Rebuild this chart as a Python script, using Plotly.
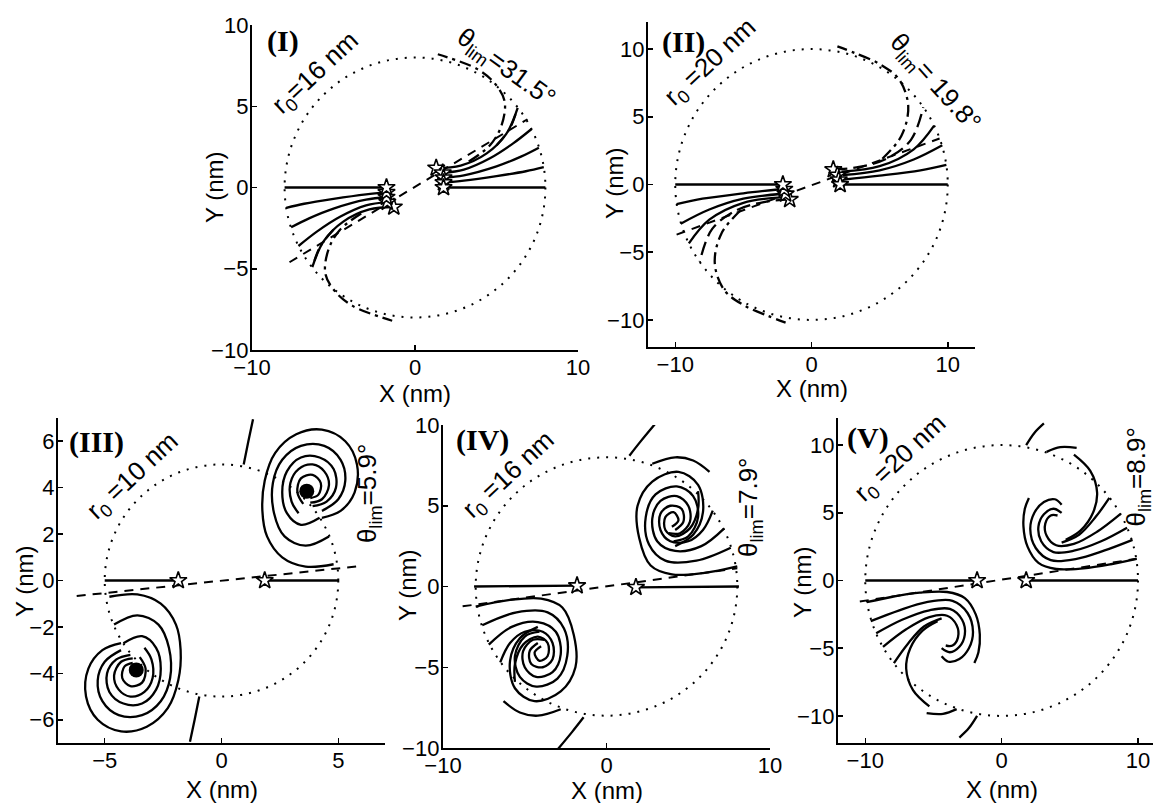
import plotly.graph_objects as go

# page geometry (reference pixels); the page body margin is removed after drawing
REF_W, REF_H = 1155, 803
PAGE_OFFSET = 0
W, H = REF_W, REF_H

# ---------------- data (right-hand half of each panel; the left half is the point mirror) -------------
# Panel I : r0 = 16 nm, theta_lim = 31.5 deg
I_R = 8
I_STARS = [(1.3, 1.2), (1.7, 0.9), (1.75, 0.6), (1.75, 0.3), (1.75, 0.0)]
I_SOLID = [
    [(1.75, 0.0), (8.0, 0.0)],
    [(1.75, 0.3), (3.0, 0.42), (5.0, 0.7), (6.8, 1.0), (7.9, 1.25)],
    [(1.75, 0.6), (3.0, 0.75), (5.0, 1.3), (6.5, 1.9), (7.6, 2.45)],
    [(1.7, 0.9), (3.0, 1.1), (4.6, 1.8), (6.0, 2.7), (7.15, 3.6)],
    [(1.3, 1.2), (2.8, 1.35), (4.4, 2.1), (5.6, 3.3), (6.3, 4.9)],
]
I_DASHDOT = [
    [(3.3, 1.6), (4.6, 2.6), (5.3, 3.8), (5.5, 5.3), (4.9, 6.4), (3.8, 7.3), (1.4, 8.2)],
    [(5.0, 2.6), (5.8, 3.6), (6.2, 4.6)],
]
I_LONGDASH = []
I_LIMIT = [(-7.7, -4.6), (6.9, 4.2)]
I_X_TICKS = [-10, 0, 10]
I_Y_TICKS = [-10, -5, 0, 5, 10]

# Panel II : r0 = 20 nm, theta_lim = 19.8 deg
II_R = 10
II_STARS = [(1.6, 1.1), (1.9, 0.7), (2.0, 0.35), (2.1, 0.0)]
II_SOLID = [
    [(2.1, 0.0), (10.0, 0.0)],
    [(2.3, 0.35), (5.0, 0.65), (8.0, 1.05), (9.9, 1.45)],
    [(2.3, 0.7), (5.0, 1.05), (7.5, 1.85), (9.6, 2.9)],
    [(2.2, 0.95), (5.0, 1.35), (7.5, 2.6), (9.0, 4.35)],
]
II_DASHDOT = [
    [(5.2, 1.9), (6.6, 3.6), (7.1, 5.8), (6.4, 7.8), (5.0, 8.9), (3.2, 9.7), (1.9, 10.2)],
]
II_LONGDASH = [
    [(1.6, 1.1), (3.5, 1.3), (5.5, 1.9), (7.3, 3.3), (8.2, 5.7)],
]
II_LIMIT = [(-9.9, -3.7), (9.4, 3.4)]
II_X_TICKS = [-10, 0, 10]
II_Y_TICKS = [-10, -5, 0, 5, 10]

# Panel III : r0 = 10 nm, theta_lim = 5.9 deg
III_R = 5
III_STARS = [(1.85, 0.0)]
III_SOLID = [
    [(1.85, 0.0), (5.0, 0.0)],
    [(4.8, 0.7), (3.6, 0.6), (2.6, 1.0), (1.95, 1.9), (1.75, 3.0), (1.85, 4.3), (2.3, 5.5), (3.2, 6.3), (4.3, 6.5), (5.3, 6.0), (5.8, 5.0), (5.7, 3.8), (5.1, 3.0), (4.3, 2.7)],
    [(4.6, 1.9), (3.6, 1.5), (2.7, 1.9), (2.25, 2.9), (2.2, 4.2), (2.6, 5.2), (3.4, 5.8), (4.4, 5.8), (5.1, 5.2), (5.3, 4.3), (5.0, 3.5), (4.3, 3.0)],
    [(4.2, 2.7), (3.4, 2.4), (2.8, 2.9), (2.6, 3.8), (2.8, 4.7), (3.4, 5.3), (4.2, 5.3), (4.8, 4.8), (4.9, 4.0), (4.5, 3.4), (3.9, 3.2)],
    [(3.3, 2.9), (3.0, 3.4), (2.95, 4.2), (3.3, 4.8), (3.9, 5.0), (4.4, 4.7), (4.6, 4.1), (4.3, 3.5), (3.8, 3.35)],
    [(3.5, 3.3), (3.25, 3.8), (3.4, 4.4), (3.9, 4.55), (4.25, 4.2), (4.15, 3.7), (3.8, 3.55)],
    [(1.35, 6.95), (1.15, 6.0), (0.95, 5.0)],
]
III_DASHDOT = []
III_LONGDASH = []
III_CORE = [(3.65, 3.85)]
III_LIMIT = [(-6.2, -0.67), (5.9, 0.62)]
III_X_TICKS = [-5, 0, 5]
III_Y_TICKS = [-6, -4, -2, 0, 2, 4, 6]

# Panel IV : r0 = 16 nm, theta_lim = 7.9 deg
IV_R = 8
IV_STARS = [(1.8, -0.05)]
IV_SOLID = [
    [(1.8, -0.05), (8.1, 0.0)],
    [(8.0, 1.25), (6.0, 0.85), (4.0, 0.75), (2.7, 1.3), (2.0, 3.0), (1.9, 5.0), (2.8, 6.5), (4.4, 7.1), (5.6, 6.3), (5.9, 4.6), (5.3, 3.2), (4.2, 2.5)],
    [(7.6, 2.4), (5.5, 1.6), (3.6, 1.6), (2.6, 2.6), (2.4, 4.3), (3.0, 5.7), (4.3, 6.2), (5.3, 5.6), (5.6, 4.3), (5.0, 3.1), (4.1, 2.8)],
    [(7.2, 3.6), (5.8, 2.5), (4.2, 2.2), (3.1, 2.8), (2.8, 4.2), (3.3, 5.3), (4.3, 5.6), (5.0, 5.0), (5.1, 4.0), (4.5, 3.3), (3.8, 3.3)],
    [(6.5, 4.7), (5.9, 3.5), (5.0, 2.8), (3.9, 2.8), (3.3, 3.5), (3.3, 4.5), (3.9, 5.0), (4.6, 4.8), (4.7, 4.0), (4.2, 3.5)],
    [(5.6, 5.9), (5.6, 4.8), (5.1, 3.6), (4.2, 3.1), (3.6, 3.5), (3.6, 4.3), (4.1, 4.6), (4.4, 4.1), (4.0, 3.7)],
    [(2.8, 7.6), (4.2, 8.0), (5.3, 7.8), (6.3, 7.1)],
    [(3.0, 10.1), (2.1, 9.0), (1.4, 8.1)],
]
IV_DASHDOT = []
IV_LONGDASH = []
IV_LIMIT = [(-8.8, -1.23), (8.0, 1.13)]
IV_X_TICKS = [-10, 0, 10]
IV_Y_TICKS = [-10, -5, 0, 5, 10]

# Panel V : r0 = 20 nm, theta_lim = 8.9 deg
V_R = 10
V_STARS = [(1.8, 0.0)]
V_SOLID = [
    [(1.8, 0.0), (10.0, 0.0)],
    [(9.9, 1.6), (8.0, 1.2), (6.0, 0.9), (4.0, 0.85), (2.7, 1.3), (1.9, 2.5), (1.6, 4.0), (1.7, 5.3), (2.0, 6.1)],
    [(9.6, 3.0), (7.5, 2.2), (5.5, 1.6), (3.6, 1.5), (2.5, 2.4), (2.1, 3.8), (2.4, 5.0), (3.1, 5.8), (3.9, 6.0), (4.4, 5.6)],
    [(9.2, 3.9), (7.3, 2.9), (5.3, 2.2), (3.8, 2.1), (2.9, 2.9), (2.7, 4.0), (3.1, 4.9), (3.8, 5.3), (4.4, 5.0)],
    [(8.7, 4.9), (7.0, 3.6), (5.3, 2.7), (4.0, 2.6), (3.3, 3.3), (3.2, 4.2), (3.6, 4.8), (4.1, 4.8)],
    [(7.9, 6.1), (6.9, 4.7), (5.7, 3.4), (4.4, 2.8)],
    [(5.3, 9.3), (6.5, 8.1), (7.0, 6.5), (6.7, 5.0), (5.8, 3.7), (4.7, 3.0)],
    [(3.3, 9.5), (4.3, 9.85), (5.5, 9.8)],
    [(1.8, 10.0), (2.4, 10.9), (3.1, 11.6)],
]
V_DASHDOT = []
V_LONGDASH = []
V_LIMIT = [(-10.4, -1.55), (9.9, 1.6)]
V_X_TICKS = [-10, 0, 10]
V_Y_TICKS = [-10, -5, 0, 5, 10]


# ---------------- layout geometry (reference pixels -> paper) ----------------
def fx(px):
    return (px - PAGE_OFFSET) / W


def fy(py):
    return 1 - (py - PAGE_OFFSET) / H


def dom_x(p0, p1):
    return [fx(p0), fx(p1)]


def dom_y(top, bottom):
    return [fy(bottom), fy(top)]


PANELS = [
    dict(name="I", R=I_R, stars=I_STARS, solid=I_SOLID, dashdot=I_DASHDOT, longdash=I_LONGDASH,
         core=[], limit=I_LIMIT, xt=I_X_TICKS, yt=I_Y_TICKS,
         xd=dom_x(252, 578), yd=dom_y(25, 350), xr=[-10, 10], yr=[-10, 10],
         label=(-9.2, 9.0), r0=("r<sub>0</sub>=16 nm", -6.1, 7.0, -43),
         th=("θ<sub>lim</sub>=31.5°", 5.6, 7.35, 36), xtitle=(415, 394), ytitle=(214, 187)),
    dict(name="II", R=II_R, stars=II_STARS, solid=II_SOLID, dashdot=II_DASHDOT, longdash=II_LONGDASH,
         core=[], limit=II_LIMIT, xt=II_X_TICKS, yt=II_Y_TICKS,
         xd=dom_x(648, 975), yd=dom_y(22, 347), xr=[-12, 12], yr=[-12, 12],
         label=(-11.1, 10.5), r0=("r<sub>0</sub> =20 nm", -7.4, 9.0, -43),
         th=("θ<sub>lim</sub>= 19.8°", 9.0, 7.5, 48), xtitle=(812, 389), ytitle=(614, 183)),
    dict(name="III", R=III_R, stars=III_STARS, solid=III_SOLID, dashdot=III_DASHDOT, longdash=III_LONGDASH,
         core=III_CORE, limit=III_LIMIT, xt=III_X_TICKS, yt=III_Y_TICKS,
         xd=dom_x(58, 385), yd=dom_y(418, 743), xr=[-7, 7], yr=[-7, 7],
         label=(-6.6, 5.95), r0=("r<sub>0</sub> =10 nm", -3.8, 4.5, -43),
         th=("θ<sub>lim</sub>=5.9°", 6.3, 3.75, -90), xtitle=(222, 789), ytitle=(24, 581)),
    dict(name="IV", R=IV_R, stars=IV_STARS, solid=IV_SOLID, dashdot=IV_DASHDOT, longdash=IV_LONGDASH,
         core=[], limit=IV_LIMIT, xt=IV_X_TICKS, yt=IV_Y_TICKS,
         xd=dom_x(443, 770), yd=dom_y(425, 748), xr=[-10, 10], yr=[-10, 10],
         label=(-9.3, 9.05), r0=("r<sub>0</sub> =16 nm", -6.0, 6.9, -43),
         th=("θ<sub>lim</sub>=7.9°", 8.75, 4.9, -90), xtitle=(607, 790), ytitle=(407, 585)),
    dict(name="V", R=V_R, stars=V_STARS, solid=V_SOLID, dashdot=V_DASHDOT, longdash=V_LONGDASH,
         core=[], limit=V_LIMIT, xt=V_X_TICKS, yt=V_Y_TICKS,
         xd=dom_x(838, 1153), yd=dom_y(418, 743), xr=[-12, 11.1], yr=[-12, 12],
         label=(-11.5, 10.5), r0=("r<sub>0</sub> =20 nm", -7.4, 9.0, -43),
         th=("θ<sub>lim</sub>=8.9°", 10.0, 7.6, -90), xtitle=(1002, 789), ytitle=(802, 582)),
]


def mirror(curve):
    return [(-x, -y) for x, y in curve]


def join(curves):
    xs, ys = [], []
    for c in curves:
        xs += [p[0] for p in c] + [None]
        ys += [p[1] for p in c] + [None]
    return xs, ys


fig = go.Figure()
layout = dict(width=W, height=H, margin=dict(l=0, r=0, t=0, b=0, autoexpand=False),
              paper_bgcolor="white", plot_bgcolor="white", showlegend=False,
              shapes=[], annotations=[])

TICKFONT = dict(family="Liberation Sans, Arial, sans-serif", size=22, color="black")
TITLEFONT = dict(family="Liberation Sans, Arial, sans-serif", size=24, color="black")
TEXTFONT = dict(family="Liberation Sans, Arial, sans-serif", size=26, color="black")
LABELFONT = dict(family="Liberation Serif, Times New Roman, serif", size=30, color="black")

for i, p in enumerate(PANELS, start=1):
    xa, ya = f"x{i}", f"y{i}"
    sfx = "" if i == 1 else str(i)
    common = dict(ticks="inside", ticklen=5, tickwidth=1.5, tickcolor="black",
                  showline=True, linecolor="black", linewidth=2.2, showgrid=False,
                  zeroline=False, tickfont=TICKFONT, fixedrange=True, automargin=False,
                  ticklabeloverflow="allow")
    layout["xaxis" + sfx] = dict(domain=p["xd"], range=p["xr"], tickvals=p["xt"],
                                 anchor=ya, ticklabelstandoff=-4, **common)
    layout["yaxis" + sfx] = dict(domain=p["yd"], range=p["yr"], tickvals=p["yt"],
                                 anchor=xa, ticklabelstandoff=-3, **common)

    # dotted boundary circle of radius r0/2
    R = p["R"]
    layout["shapes"].append(dict(type="circle", xref=xa, yref=ya, x0=-R, y0=-R, x1=R, y1=R,
                                 line=dict(color="black", width=2, dash="2px,7px"), layer="below"))

    both = lambda cs: cs + [mirror(c) for c in cs]

    # theta_lim dashed line
    lx, ly = join([p["limit"]])
    fig.add_trace(go.Scatter(x=lx, y=ly, xaxis=xa, yaxis=ya, mode="lines",
                             line=dict(color="black", width=2, dash="9px,7px"), hoverinfo="skip"))

    for group, dash in (("solid", "solid"), ("dashdot", "12px,5px,3px,5px"), ("longdash", "14px,6px")):
        if p[group]:
            gx, gy = join(both(p[group]))
            fig.add_trace(go.Scatter(x=gx, y=gy, xaxis=xa, yaxis=ya, mode="lines",
                                     line=dict(color="black", width=2.3, dash=dash,
                                               shape="spline", smoothing=1.0),
                                     connectgaps=False, hoverinfo="skip"))

    if p["core"]:
        cx, cy = join([p["core"], mirror(p["core"])])
        fig.add_trace(go.Scatter(x=cx, y=cy, xaxis=xa, yaxis=ya, mode="markers",
                                 marker=dict(symbol="circle", size=15, color="black"), hoverinfo="skip"))

    st = p["stars"] + mirror(p["stars"])
    fig.add_trace(go.Scatter(x=[s[0] for s in st], y=[s[1] for s in st], xaxis=xa, yaxis=ya,
                             mode="markers",
                             marker=dict(symbol="star", size=13, color="white",
                                         line=dict(color="black", width=1.6)),
                             hoverinfo="skip"))

    # texts
    lxp, lyp = p["label"]
    layout["annotations"].append(dict(xref=xa, yref=ya, x=lxp, y=lyp, text=f"<b>({p['name']})</b>",
                                      showarrow=False, xanchor="left", yanchor="middle", font=LABELFONT))
    t, tx, ty, ang = p["r0"]
    layout["annotations"].append(dict(xref=xa, yref=ya, x=tx, y=ty, text=t, showarrow=False,
                                      xanchor="center", yanchor="middle", textangle=ang, font=TEXTFONT))
    t, tx, ty, ang = p["th"]
    layout["annotations"].append(dict(xref=xa, yref=ya, x=tx, y=ty, text=t, showarrow=False,
                                      xanchor="center", yanchor="middle", textangle=ang, font=TEXTFONT))
    xtx, xty = p["xtitle"]
    layout["annotations"].append(dict(xref="paper", yref="paper", x=fx(xtx), y=fy(xty),
                                      xanchor="center", yanchor="middle",
                                      text="X (nm)", showarrow=False, font=TITLEFONT))
    ytx, yty = p["ytitle"]
    layout["annotations"].append(dict(xref="paper", yref="paper", x=fx(ytx), y=fy(yty),
                                      xanchor="center", yanchor="middle",
                                      text="Y (nm)", showarrow=False, textangle=-90, font=TITLEFONT))

fig.update_layout(**layout)

# remove the default 8px page margin so the 1155x803 figure fills the window exactly
RESET_PAGE = ("document.documentElement.style.margin='0';document.body.style.margin='0';"
              "document.documentElement.style.overflow='hidden';document.body.style.overflow='hidden';")
fig.write_html("out.html", default_width=f"{W}px", default_height=f"{H}px",
               post_script=RESET_PAGE, config={"displayModeBar": False, "staticPlot": True})
